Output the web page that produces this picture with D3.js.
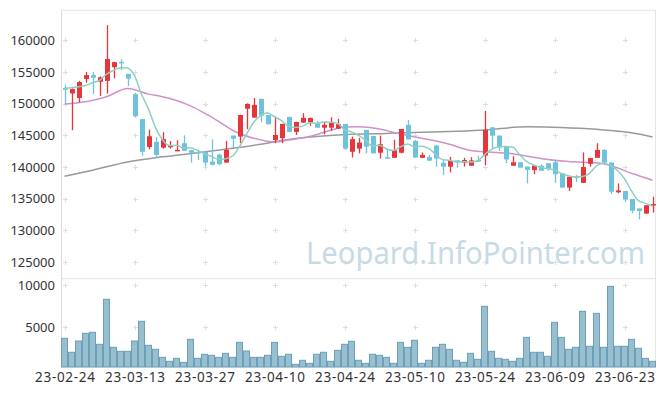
<!DOCTYPE html>
<html><head><meta charset="utf-8">
<script src="https://cdn.jsdelivr.net/npm/d3@7"></script>
<style>html,body{margin:0;padding:0;background:#fff;}svg{display:block;font-family:"Noto Sans",sans-serif;}</style>
</head><body>
<svg id="c" width="665" height="396"></svg>
<script>
const dates = ["23-02-24","23-02-27","23-02-28","23-03-02","23-03-03","23-03-06","23-03-07","23-03-08","23-03-09","23-03-10",
"23-03-13","23-03-14","23-03-15","23-03-16","23-03-17","23-03-20","23-03-21","23-03-22","23-03-23","23-03-24",
"23-03-27","23-03-28","23-03-29","23-03-30","23-03-31","23-04-03","23-04-04","23-04-05","23-04-06","23-04-07",
"23-04-10","23-04-11","23-04-12","23-04-13","23-04-14","23-04-17","23-04-18","23-04-19","23-04-20","23-04-21",
"23-04-24","23-04-25","23-04-26","23-04-27","23-04-28","23-05-02","23-05-03","23-05-04","23-05-08","23-05-09",
"23-05-10","23-05-11","23-05-12","23-05-15","23-05-16","23-05-17","23-05-18","23-05-19","23-05-22","23-05-23",
"23-05-24","23-05-25","23-05-26","23-05-30","23-05-31","23-06-01","23-06-02","23-06-05","23-06-07","23-06-08",
"23-06-09","23-06-12","23-06-13","23-06-14","23-06-15","23-06-16","23-06-19","23-06-20","23-06-21","23-06-22",
"23-06-23","23-06-26","23-06-27","23-06-28","23-06-29"];
const openP = [152500,151600,150900,153900,154500,153450,153600,155750,156600,154700,
151500,147550,143150,143950,143050,143150,142600,143750,142650,142400,
142350,140850,141950,140700,144950,144800,149200,147800,150750,148200,
144250,144550,147900,145550,147000,147050,146900,146200,146200,146050,
146800,142400,142900,145850,144900,142250,141550,141450,142250,146650,
144100,141450,141550,143400,140650,140050,141050,140700,140200,141100,
141800,146250,144950,143200,140200,140750,140050,139500,140200,140600,
140750,139000,136750,138500,137500,140500,141450,142700,140700,136000,
136200,134950,133450,132650,133950];
const highP = [153000,152400,153600,155000,155000,154300,162400,156600,157000,154700,
151700,147600,145900,144700,145500,144100,144200,145000,142700,142700,
142500,144350,142100,144100,144950,148250,150050,150900,150800,148200,
147950,146800,147950,147150,148500,147800,147250,147150,147850,147600,
146800,144800,144600,145850,144900,144950,142800,144300,146000,147400,
144300,142300,141900,143400,141100,141600,141050,141450,141550,141800,
148850,146300,145000,143300,141700,140750,140050,140250,140450,140600,
141100,139000,138500,138750,142300,141450,143750,142800,140700,137400,
136200,134950,133450,134000,135300];
const lowP = [150000,145800,150200,153300,151500,151200,151600,154000,155300,152800,
147800,141800,142800,141400,142900,142900,142600,142550,140700,141100,
140050,140250,140300,140650,142950,143800,145950,147750,147050,146700,
143750,143750,145500,145050,146950,146500,146200,145150,145700,146000,
142700,141500,142150,142150,142150,141350,141350,141450,142150,144350,
141450,141400,141000,140050,138750,139150,139900,140050,140200,140800,
140300,142950,142550,140600,140200,139900,137400,138850,139400,139400,
137500,136700,136200,137600,137500,140050,141450,140650,135750,135850,
134500,132700,131750,132600,132800];
const closeP = [152200,152300,153400,154500,154100,154150,157050,156550,156500,153950,
148000,142400,144850,141900,144400,143350,142700,142550,142250,142300,
140700,140350,140450,142700,144450,148200,149950,149800,148100,146750,
145050,146800,145550,147100,147750,147750,146200,146650,147050,146750,
142900,144400,143850,143200,142150,143600,141450,142650,146000,144350,
141500,141900,141000,141350,140050,140950,140700,141100,141050,141000,
145850,144950,143100,141200,140750,139900,139550,140200,139400,139700,
138850,136750,138450,138400,140000,141400,142700,140700,136100,136300,
134900,133100,133050,133950,134150];
const volume = [3700,2045,3380,4290,4410,2990,8310,2635,2160,2160,
3380,5710,2870,2400,1450,980,1335,860,3580,1335,
1810,1690,1450,1925,1450,3225,2200,1450,1450,1690,
3225,1570,1810,625,1100,745,1810,2045,980,2280,
2990,3345,1100,745,1810,1690,1450,745,3225,2635,
3465,745,1100,2635,2990,2400,1100,862,1925,1215,
7480,2160,1335,1215,980,1335,3815,2045,2045,1570,
5590,3815,2400,2635,6890,2755,6650,2635,9845,2755,
2755,3580,2520,1335,980];
const ma5 = [152420,152500,152650,152850,153300,153690,154640,155270,155670,155640,
154410,151480,149140,146220,144310,143380,143440,142980,143050,142630,
142100,141630,141210,141300,141730,143230,145150,147020,148100,148560,
147930,147300,146450,146250,146450,146990,146870,147090,147080,146880,
145910,145550,144990,144220,143300,143440,142850,142610,143170,143610,
143190,143280,142950,142020,141160,141050,140810,140830,140770,140960,
141940,142790,143190,143220,143170,141980,140900,140320,139960,139750,
139540,138980,138630,138430,138490,139000,140190,140640,140180,139440,
138140,136220,134690,134260,133830];
// MA20 and MA60 read at selected bars: [bar index, value]
const ma20Idx = [0,3,6,9,12,14,16,18,20,22,24,27,30,32,35,38,40,42,45,48,51,55,58,60,64,68,72,76,78,81,84];
const ma20Val = [149950,150300,151100,152400,151500,151100,150500,149650,148500,147200,145800,144550,143950,144250,144800,145800,146300,146350,146000,145200,144550,143600,142600,142400,142100,141350,140850,140650,140250,139000,137900];
const ma60Idx = [0,4,9,14,19,24,28,32,36,41,46,51,56,60,66,71,76,81,84];
const ma60Val = [138550,139500,140800,141600,142250,142950,143600,144350,144800,145150,145300,145470,145650,145850,146350,146250,145950,145400,144750];
const priceTicks = [125000,130000,135000,140000,145000,150000,155000,160000];
const volTicks = [5000,10000];
const xTickLabels = ["23-02-24","23-03-13","23-03-27","23-04-10","23-04-24","23-05-10","23-05-24","23-06-09","23-06-23"];

const svg = d3.select("#c");
const L = 61, R = 656, T = 10.3, MID = 278.7, B = 367;
const x = d3.scaleBand().domain(d3.range(dates.length)).range([L, R]).paddingInner(0).paddingOuter(0);
const bw = x.bandwidth();
const cx = i => x(i) + bw / 2;
const y = d3.scaleLinear().domain([125000, 160000]).range([262, 40.3]);
const yv = d3.scaleLinear().domain([5000, 10000]).range([327.3, 285]);

const RED = "#e8343b", BLUE = "#6cc3db";

// frame
svg.append("rect").attr("x", L + 0.5).attr("y", T).attr("width", R - L - 1).attr("height", B - T)
  .attr("fill", "none").attr("stroke", "#e6e6e6");
svg.append("line").attr("x1", L).attr("x2", R).attr("y1", MID).attr("y2", MID).attr("stroke", "#e2e2e2");
svg.append("line").attr("x1", L + 0.5).attr("x2", L + 0.5).attr("y1", T).attr("y2", B).attr("stroke", "#dcdcdc");

// grid crosses
const gx = xTickLabels.map(d => cx(dates.indexOf(d)));
const crossPts = [];
gx.forEach(px => { priceTicks.forEach(t => crossPts.push([px, y(t)])); volTicks.forEach(t => crossPts.push([px, yv(t)])); });
const gCross = svg.append("g").attr("stroke", "#dedede").attr("stroke-width", 1);
crossPts.forEach(([px, py]) => {
  gCross.append("line").attr("x1", Math.round(px) - 2).attr("x2", Math.round(px) + 3).attr("y1", Math.round(py) + 0.5).attr("y2", Math.round(py) + 0.5);
  gCross.append("line").attr("x1", Math.round(px) + 0.5).attr("x2", Math.round(px) + 0.5).attr("y1", Math.round(py) - 2).attr("y2", Math.round(py) + 3);
});

// watermark
svg.append("text").attr("x", 306).attr("y", 264).attr("font-size", 31).attr("fill", "#c7dbe6")
  .attr("textLength", 339).attr("lengthAdjust", "spacingAndGlyphs").text("Leopard.InfoPointer.com");

// y axis (price)
const yAxis = d3.axisLeft(y).tickValues(priceTicks).tickSize(0).tickPadding(6).tickFormat(d3.format("d"));
const ga = svg.append("g").attr("transform", `translate(${L},0)`).call(yAxis);
ga.select(".domain").remove();
ga.selectAll("text").attr("font-size", 13).attr("fill", "#333").attr("font-family", "Noto Sans, sans-serif");

const yvAxis = d3.axisLeft(yv).tickValues(volTicks).tickSize(0).tickPadding(6).tickFormat(d3.format("d"));
const gv = svg.append("g").attr("transform", `translate(${L},0)`).call(yvAxis);
gv.select(".domain").remove();
gv.selectAll("text").attr("font-size", 13).attr("fill", "#333").attr("font-family", "Noto Sans, sans-serif");

// x axis
const xAxis = d3.axisBottom(d3.scalePoint().domain(dates).range([cx(0), cx(dates.length - 1)]))
  .tickValues(xTickLabels).tickSize(0).tickPadding(5);
const gxA = svg.append("g").attr("transform", `translate(0,${B})`).call(xAxis);
gxA.select(".domain").remove();
gxA.selectAll("text").attr("font-size", 13.5).attr("fill", "#333").attr("font-family", "Noto Sans, sans-serif")
  .attr("textLength", 60).attr("lengthAdjust", "spacing");

// volume bars
svg.append("g").selectAll("rect").data(volume).join("rect")
  .attr("x", (d, i) => x(i) + 0.5).attr("y", d => yv(d)).attr("width", bw - 1).attr("height", d => B - yv(d))
  .attr("fill", "#97bfd0").attr("stroke", "#6c9fb8").attr("stroke-width", 1);

// MA lines
const lineFn = d3.line().curve(d3.curveMonotoneX);
svg.append("path").attr("d", lineFn(ma60Idx.map((b, k) => [cx(b), y(ma60Val[k])])))
  .attr("fill", "none").attr("stroke", "#9a9a9a").attr("stroke-width", 1.5);
svg.append("path").attr("d", lineFn(ma20Idx.map((b, k) => [cx(b), y(ma20Val[k])])))
  .attr("fill", "none").attr("stroke", "#cf92cc").attr("stroke-width", 1.5);

// candles
const gc = svg.append("g");
dates.forEach((d, i) => {
  const o = openP[i], c = closeP[i], up = c >= o;
  const col = up ? RED : BLUE;
  gc.append("line").attr("x1", Math.round(cx(i)) + 0.5).attr("x2", Math.round(cx(i)) + 0.5)
    .attr("y1", y(highP[i])).attr("y2", y(lowP[i])).attr("stroke", col).attr("stroke-width", 1.3);
  const top = y(Math.max(o, c)), bot = y(Math.min(o, c));
  gc.append("rect").attr("x", Math.round(cx(i)) - 2).attr("width", 5)
    .attr("y", top).attr("height", Math.max(1.5, bot - top)).attr("fill", col);
});

svg.append("path").attr("d", d3.line().curve(d3.curveMonotoneX)(ma5.map((v, i) => [cx(i), y(v)])))
  .attr("fill", "none").attr("stroke", "#8fd0c2").attr("stroke-width", 1.5);
</script>
</body></html>
